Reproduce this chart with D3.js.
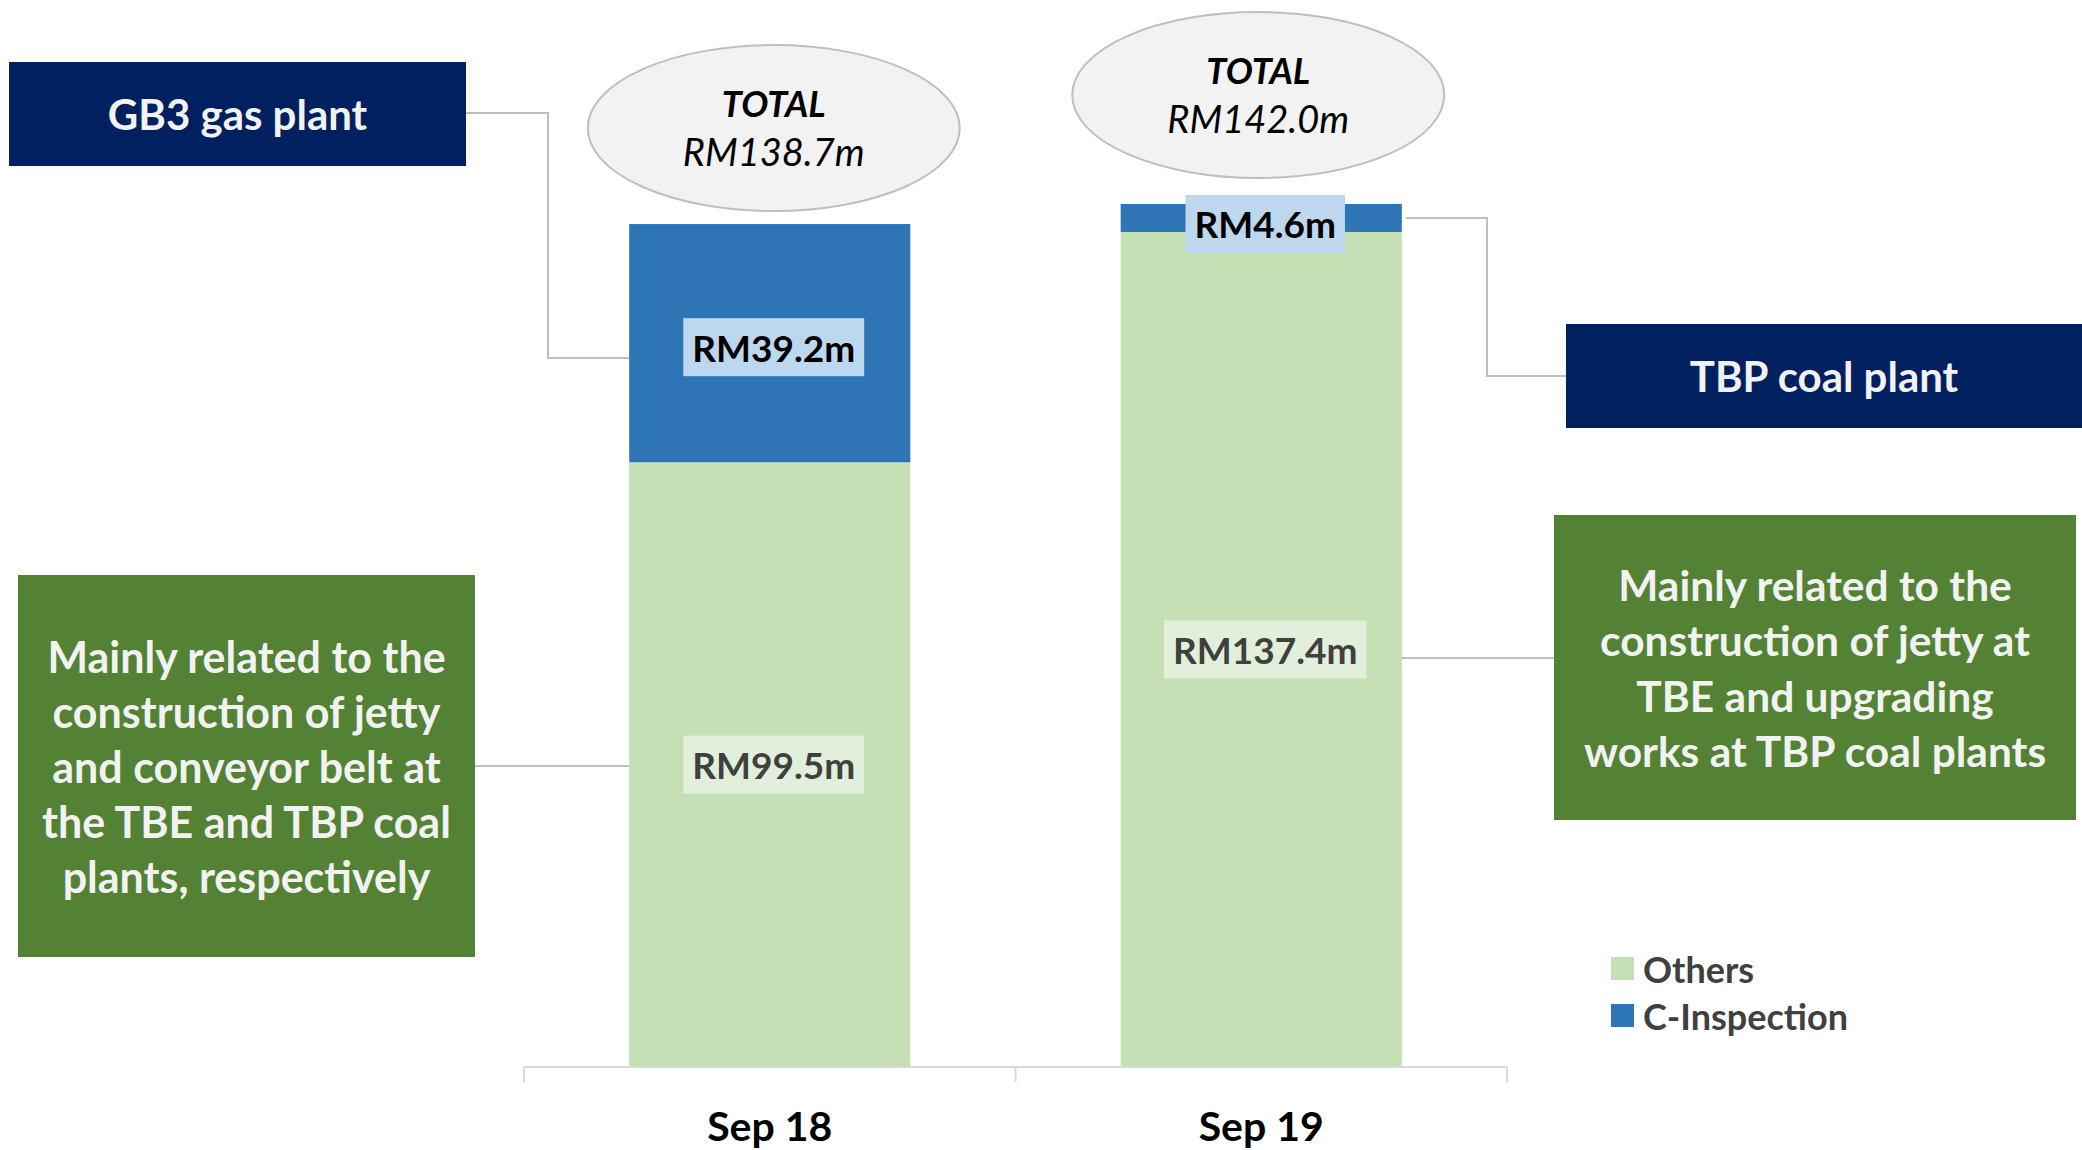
<!DOCTYPE html>
<html><head><meta charset="utf-8">
<script src="https://cdn.jsdelivr.net/npm/d3@7"></script>
<style>
html,body{margin:0;padding:0;background:#fff;}
svg{display:block;font-family:Lato,"Open Sans",sans-serif;}
</style></head>
<body>
<svg id="chart" width="2082" height="1150"></svg>
<script>
// ---- data ----
const categories = ["Sep 18", "Sep 19"];
const seriesNames = ["Others", "C-Inspection"];
const othersValues = [99.5, 137.4];
const cInspectionValues = [39.2, 4.6];
const totalValues = [138.7, 142.0];
const leftNote = ["Mainly related to the", "construction of jetty", "and conveyor belt at", "the TBE and TBP coal", "plants, respectively"];
const rightNote = ["Mainly related to the", "construction of jetty at", "TBE and upgrading", "works at TBP coal plants"];

// ---- styles ----
const colOthers = "#C5E0B4", colCI = "#2E75B6";
const navy = "#002060", green = "#548235", lineGrey = "#BFBFBF";

const svg = d3.select("#chart");
const x = d3.scaleBand().domain(categories).range([524, 1507]).paddingInner(0.428).paddingOuter(0.214);
const y = d3.scaleLinear().domain([0, 142]).range([1067, 204]);
const fmt = v => "RM" + v.toFixed(1) + "m";

const rows = categories.map((c, i) => ({c, others: othersValues[i], ci: cInspectionValues[i], total: totalValues[i]}));
const stack = d3.stack().keys(["others", "ci"])(rows);
const colors = {others: colOthers, ci: colCI};

// bars
svg.append("g").selectAll("g").data(stack).join("g")
  .attr("fill", s => colors[s.key])
  .selectAll("rect").data(s => s).join("rect")
  .attr("x", d => x(d.data.c)).attr("width", x.bandwidth())
  .attr("y", d => y(d[1])).attr("height", d => y(d[0]) - y(d[1]));

// axis
const step = x.step(), half = step * x.paddingInner() / 2;
const ax = svg.append("g").attr("stroke", "#D9D9D9").attr("stroke-width", 2);
ax.append("line").attr("x1", x.range()[0]).attr("x2", x.range()[1]).attr("y1", y(0)).attr("y2", y(0));
const tickXs = [x(categories[0]) - half].concat(categories.map(c => x(c) + x.bandwidth() + half));
ax.selectAll(".tk").data(tickXs).join("line").attr("x1", d => d).attr("x2", d => d).attr("y1", y(0)).attr("y2", y(0) + 15);

const xAxis = svg.append("g").attr("transform", `translate(0,${y(0) + 20})`)
  .call(d3.axisBottom(x).tickSize(0).tickPadding(0));
xAxis.select(".domain").remove();
xAxis.selectAll("text").attr("font-size", 41).attr("font-weight", 700).attr("fill", "#000")
  .attr("font-family", "Lato, sans-serif").attr("dy", "0").attr("y", 54);

// value labels with boxes
function labelBox(cx, cy, text, bg, fg, fs) {
  const g = svg.append("g");
  const r = g.append("rect").attr("fill", bg);
  const t = g.append("text").attr("x", cx).attr("y", cy).attr("text-anchor", "middle")
    .attr("dominant-baseline", "central").attr("font-size", fs).attr("font-weight", 700)
    .attr("fill", fg).text(text);
  const bb = t.node().getBBox();
  const w = bb.width + 18, h = 58;
  r.attr("x", cx - w / 2).attr("y", cy - h / 2).attr("width", w).attr("height", h);
}
rows.forEach(d => {
  const cx = x(d.c) + x.bandwidth() / 2;
  labelBox(cx + 4, (y(0) + y(d.others)) / 2, fmt(d.others), "#E2EFDA", "#404040", 37);
  const ciMid = (y(d.others) + y(d.others + d.ci)) / 2;
  labelBox(cx + 4, ciMid + (d.ci < 10 ? 6 : 4), fmt(d.ci), "#BDD7EE", "#000", 37);
});

// total bubbles
const bubbleOffset = [96, 109];
const bubbleShift = [4, -3];
rows.forEach((d, i) => {
  const cx = x(d.c) + x.bandwidth() / 2 + bubbleShift[i];
  const cy = y(d.total) - bubbleOffset[i];
  svg.append("ellipse").attr("cx", cx).attr("cy", cy).attr("rx", 186).attr("ry", 83)
    .attr("fill", "#F2F2F2").attr("stroke", lineGrey).attr("stroke-width", 2);
  svg.append("text").attr("x", cx).attr("y", cy - 25).attr("text-anchor", "middle").attr("dominant-baseline", "central")
    .attr("font-size", 36).attr("font-weight", 700).attr("font-style", "italic").attr("fill", "#000").text("TOTAL");
  svg.append("text").attr("x", cx).attr("y", cy + 23).attr("text-anchor", "middle").attr("dominant-baseline", "central")
    .attr("font-size", 38).attr("font-style", "italic").attr("fill", "#000").text(fmt(d.total));
});

// connectors
const conn = svg.append("g").attr("fill", "none").attr("stroke", lineGrey).attr("stroke-width", 2);
const b1 = x(categories[0]), b2 = x(categories[1]) + x.bandwidth();
conn.append("path").attr("d", `M466,113H548V358H${b1}`);
conn.append("path").attr("d", `M475,766H${b1}`);
conn.append("path").attr("d", `M${b2 + 4},218H1487V376H1566`);
conn.append("path").attr("d", `M${b2},658H1554`);

// annotation boxes
function box(x0, y0, w, h, fill, lines, fs, lh) {
  svg.append("rect").attr("x", x0).attr("y", y0).attr("width", w).attr("height", h).attr("fill", fill);
  const t = svg.append("text").attr("text-anchor", "middle").attr("font-size", fs).attr("font-weight", 700).attr("fill", "#F2F2F2");
  const cy = y0 + h / 2 - (lines.length - 1) * lh / 2;
  lines.forEach((l, i) => t.append("tspan").attr("x", x0 + w / 2).attr("y", cy + i * lh).attr("dominant-baseline", "central").text(l));
}
box(9, 62, 457, 104, navy, ["GB3 gas plant"], 42, 0);
box(1566, 324, 516, 104, navy, ["TBP coal plant"], 42, 0);
box(18, 575, 457, 382, green, leftNote, 43, 55);
box(1554, 515, 522, 305, green, rightNote, 42.5, 55.3);

// legend
const legend = svg.append("g").attr("transform", "translate(1611,957)");
const legItems = [{name: seriesNames[0], color: colOthers}, {name: seriesNames[1], color: colCI}];
legItems.forEach((d, i) => {
  const g = legend.append("g").attr("transform", `translate(0,${i * 47})`);
  g.append("rect").attr("width", 23).attr("height", 23).attr("fill", d.color);
  g.append("text").attr("x", 32).attr("y", 12).attr("dominant-baseline", "central")
    .attr("font-size", 36).attr("font-weight", 700).attr("fill", "#404040").text(d.name);
});
</script>
</body></html>
